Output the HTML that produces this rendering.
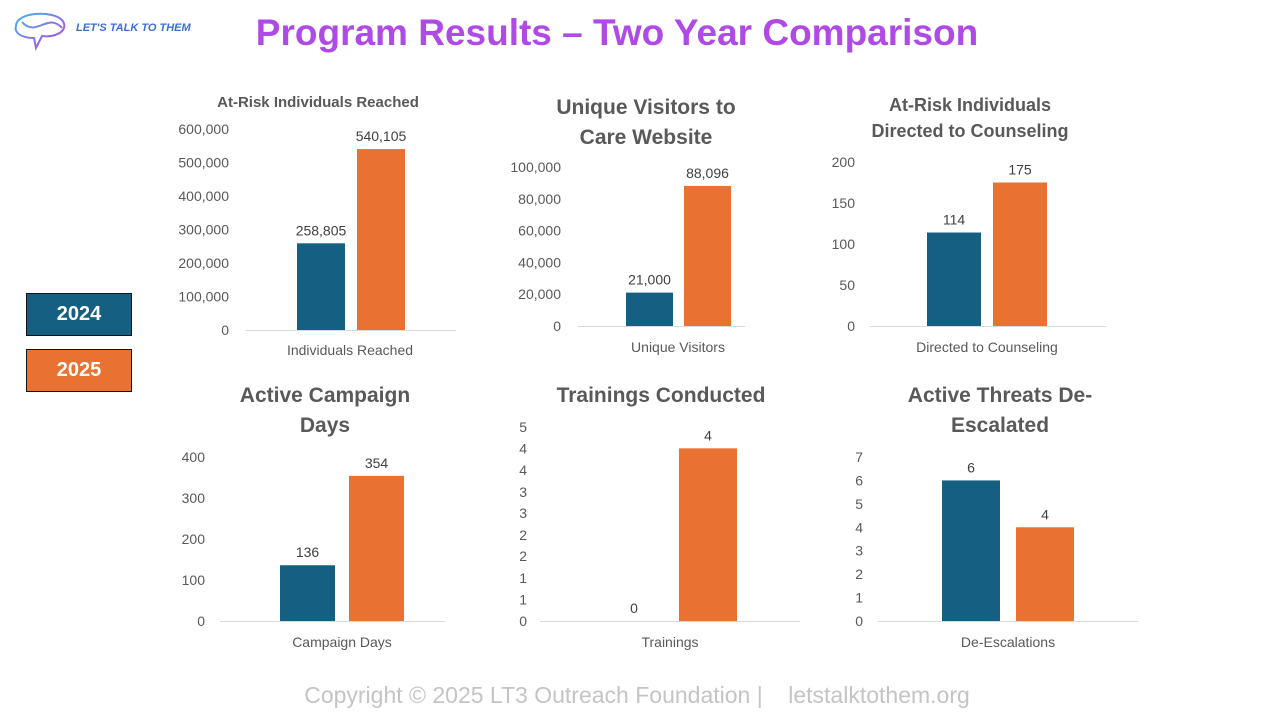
<!DOCTYPE html>
<html><head><meta charset="utf-8"><style>
body{margin:0;width:1280px;height:720px;background:#fff;overflow:hidden;font-family:"Liberation Sans",sans-serif;position:relative}
.t{position:absolute;white-space:nowrap}
</style></head><body>
<div class="t" style="left:12px;top:8px;">
<svg width="60" height="46" viewBox="0 0 60 46"><defs><linearGradient id="g" x1="0" x2="1" y1="0" y2="1"><stop offset="0" stop-color="#3fb6e8"/><stop offset="1" stop-color="#c040e0"/></linearGradient></defs>
<path d="M4 18 C4 4 40 2 50 12 C58 22 44 30 30 28 L24 40 L22 30 C8 30 2 24 4 18 Z M10 14 C24 30 36 4 50 20" fill="none" stroke="url(#g)" stroke-width="2"/></svg></div>
<div class="t" style="left:76px;top:22px;font-size:11px;font-weight:bold;font-style:italic;color:#3b6fd0">LET'S TALK TO THEM</div>
<div class="t" style="left:0;width:1234px;text-align:center;top:12px;font-size:37px;font-weight:bold;color:#b04ae6">Program Results – Two Year Comparison</div>
<div class="t" style="left:26px;top:293px;width:104px;height:41px;background:#156082;border:1px solid #111;color:#fff;font-weight:bold;font-size:20px;text-align:center;line-height:41px">2024</div>
<div class="t" style="left:26px;top:349px;width:104px;height:41px;background:#e97132;border:1px solid #111;color:#fff;font-weight:bold;font-size:20px;text-align:center;line-height:41px">2025</div>
<div class="t" style="left:0;width:1274px;text-align:center;top:682px;font-size:23px;color:#c4c4c4">Copyright © 2025 LT3 Outreach Foundation |&nbsp;&nbsp;&nbsp; letstalktothem.org</div>
<svg id="s" width="1280" height="720" style="position:absolute;left:0;top:0"></svg>
<script>
const c1Values=[258805,540105];const c1Ticks=[0,100000,200000,300000,400000,500000,600000];
const c2Values=[21000,88096];const c2Ticks=[0,20000,40000,60000,80000,100000];
const c3Values=[114,175];const c3Ticks=[0,50,100,150,200];
const c4Values=[136,354];const c4Ticks=[0,100,200,300,400];
const c5Values=[0,4.45];const c5Ticks=[0,0.56,1.11,1.67,2.22,2.78,3.33,3.89,4.44,5];
const c6Values=[6,4];const c6Ticks=[0,1,2,3,4,5,6,7];
const colors=["#156082","#e97132"];
const charts=[
{n:"individuals-reached",v:c1Values,t:c1Ticks,title:["At-Risk Individuals Reached"],ts:15,tc:318,ty:[107],y0:330,y1:129,ax:[245,456],bx:[297,357],bw:48,tr:229,cat:"Individuals Reached",cc:350,cy:355},
{n:"unique-visitors",v:c2Values,t:c2Ticks,title:["Unique Visitors to","Care Website"],ts:21,tc:646,ty:[114,144],y0:326,y1:167,ax:[578,745],bx:[626,684],bw:47,tr:561,cat:"Unique Visitors",cc:678,cy:352},
{n:"directed-to-counseling",v:c3Values,t:c3Ticks,title:["At-Risk Individuals","Directed to Counseling"],ts:18,tc:970,ty:[111,137],y0:326,y1:162,ax:[870,1106],bx:[927,993],bw:54,tr:855,cat:"Directed to Counseling",cc:987,cy:352},
{n:"campaign-days",v:c4Values,t:c4Ticks,title:["Active Campaign","Days"],ts:21,tc:325,ty:[402,432],y0:621,y1:457,ax:[220,445],bx:[280,349],bw:55,tr:205,cat:"Campaign Days",cc:342,cy:647},
{n:"trainings",v:c5Values,t:c5Ticks,title:["Trainings Conducted"],ts:21,tc:661,ty:[402],y0:621,y1:427,ax:[540,800],bx:[605,679],bw:58,tr:527,cat:"Trainings",cc:670,cy:647},
{n:"de-escalations",v:c6Values,t:c6Ticks,title:["Active Threats De-","Escalated"],ts:21,tc:1000,ty:[402,432],y0:621,y1:457,ax:[878,1138],bx:[942,1016],bw:58,tr:863,cat:"De-Escalations",cc:1008,cy:647}];
const s=document.getElementById('s');const NS="http://www.w3.org/2000/svg";
function el(tag,a,txt){const e=document.createElementNS(NS,tag);for(const k in a)e.setAttribute(k,a[k]);if(txt!==undefined)e.textContent=txt;s.appendChild(e);return e;}
charts.forEach(c=>{
 const mx=c.t[c.t.length-1];const y=v=>c.y0-(c.y0-c.y1)*v/mx;
 c.title.forEach((l,i)=>{const e=el('text',{x:c.tc,y:c.ty[i],'text-anchor':'middle','font-size':c.ts,'font-weight':'bold',fill:'#595959'},l);
 
 });
 c.t.forEach(t=>{const e=el('text',{x:c.tr,y:y(t)+5,'text-anchor':'end','font-size':14,fill:'#595959'},Math.round(t).toLocaleString('en-US'));
 
 });
 c.v.forEach((v,i)=>{const b=el('rect',{x:c.bx[i],y:y(v),width:c.bw,height:c.y0-y(v),fill:colors[i]});
 
 
 const l=el('text',{x:c.bx[i]+c.bw/2,y:y(v)-8,'text-anchor':'middle','font-size':14,fill:'#404040'},Math.round(v).toLocaleString('en-US'));
 
 });
 const a=el('line',{x1:c.ax[0],x2:c.ax[1],y1:c.y0+0.5,y2:c.y0+0.5,stroke:'#d9d9d9','stroke-width':1});
 
 
 const ct=el('text',{x:c.cc,y:c.cy,'text-anchor':'middle','font-size':14,fill:'#595959'},c.cat);
 
 
});
</script></body></html>
